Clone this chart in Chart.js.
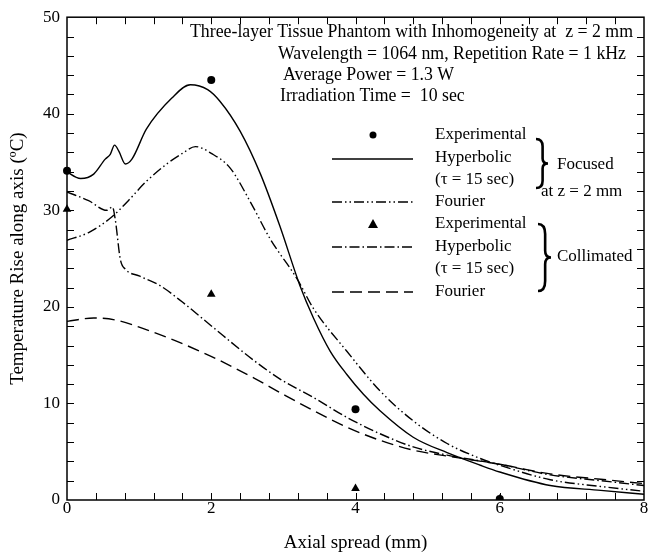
<!DOCTYPE html>
<html>
<head>
<meta charset="utf-8">
<script src="https://cdn.jsdelivr.net/npm/chart.js@4.4.1/dist/chart.umd.min.js"></script>
<style>
  html, body { margin: 0; padding: 0; background: #fff; }
  #wrap { width: 650px; height: 556px; }
</style>
</head>
<body>
<div id="wrap"><canvas id="myChart" width="650" height="556"></canvas></div>
<script>
// axial spread (mm) vs temperature rise (ºC)

// focused beam, hyperbolic model (solid)
var focHypX = [0, 0.05, 0.19, 0.37, 0.53, 0.6, 0.66, 0.72, 0.81, 0.9, 1.1, 1.45, 1.71, 1.95, 2.12, 2.4, 2.68, 2.95, 3.23, 3.42, 3.65, 3.88, 4.11, 4.34, 4.8, 5.27, 5.73, 6.0, 6.7, 7.4, 8];
var focHypY = [34.1, 33.75, 33.3, 33.75, 35.3, 35.8, 36.75, 36.1, 34.8, 35.3, 38.4, 41.6, 43.0, 42.5, 41.3, 38.2, 33.8, 28.4, 22.2, 18.8, 15.4, 13.0, 10.95, 9.24, 6.5, 4.9, 3.6, 2.9, 1.5, 1.0, 0.6];

// focused beam, Fourier model (dash-dot-dot)
var focFouX = [0, 0.3, 0.62, 0.85, 1.1, 1.4, 1.6, 1.78, 2.0, 2.26, 2.54, 2.82, 3.19, 3.42, 3.88, 4.34, 4.8, 5.27, 5.73, 6.0, 6.7, 7.4, 8];
var focFouY = [26.9, 27.7, 29.3, 31.0, 33.0, 34.9, 35.9, 36.6, 35.9, 34.4, 30.9, 27.0, 22.9, 19.8, 15.4, 11.3, 8.2, 5.85, 4.3, 3.6, 2.1, 1.4, 0.9];

// collimated beam, hyperbolic model (dash-dot)
var colHypX = [0, 0.3, 0.55, 0.63, 0.67, 0.74, 0.81, 1.0, 1.29, 1.6, 1.99, 2.6, 2.96, 3.42, 3.88, 4.34, 4.8, 5.27, 6.0, 6.7, 7.4, 8];
var colHypY = [31.9, 31.0, 30.0, 30.35, 29.0, 24.9, 23.9, 23.2, 22.2, 20.5, 18.1, 14.4, 12.5, 10.6, 8.56, 6.86, 5.5, 4.65, 3.7, 2.6, 2.0, 1.5];

// collimated beam, Fourier model (dashed)
var colFouX = [0, 0.37, 0.7, 1.06, 1.5, 1.99, 2.6, 2.96, 3.42, 3.88, 4.34, 4.8, 5.27, 6.0, 6.7, 7.4, 8];
var colFouY = [18.5, 18.85, 18.6, 17.75, 16.5, 14.9, 12.6, 11.1, 9.24, 7.54, 6.18, 5.16, 4.55, 3.7, 2.7, 2.15, 1.7];

// experimental points
var expX = [0, 2, 4, 6];
var expFocY = [34.1, 43.5, 9.4, 0.1];
var expColY = [30.1, 21.3, 1.2, 0.1];

var infoLines = [
    'Three-layer Tissue Phantom with Inhomogeneity at  z = 2 mm',
    'Wavelength = 1064 nm, Repetition Rate = 1 kHz',
    'Average Power = 1.3 W',
    'Irradiation Time =  10 sec'
];

function pts(xs, ys) {
    return xs.map(function(x, i) { return { x: x, y: ys[i] }; });
}

var SERIF = '"Liberation Serif", "Times New Roman", serif';
var DASH_DDOT = [10, 3, 1.5, 3, 1.5, 3];
var DASH_DOT = [10, 3, 1.5, 3];
var DASH = [12, 6];

function curve(xs, ys, dash) {
    return {
        data: pts(xs, ys),
        borderColor: '#000',
        borderWidth: 1.4,
        borderDash: dash,
        pointRadius: 0,
        cubicInterpolationMode: 'monotone',
        fill: false
    };
}

function marks(ys, style, r) {
    return {
        data: pts(expX, ys),
        showLine: false,
        pointStyle: style,
        pointRadius: r,
        pointBackgroundColor: '#000',
        pointBorderColor: '#000',
        pointBorderWidth: 0,
        clip: { left: false, top: false, right: false, bottom: 0 }
    };
}

function brace(ctx, x, y0, y1, w) {
    var h = y1 - y0, m = (y0 + y1) / 2;
    ctx.beginPath();
    ctx.moveTo(x, y0);
    ctx.quadraticCurveTo(x + w * 0.55, y0, x + w * 0.55, y0 + h * 0.15);
    ctx.lineTo(x + w * 0.55, m - h * 0.1);
    ctx.quadraticCurveTo(x + w * 0.55, m, x + w, m);
    ctx.quadraticCurveTo(x + w * 0.55, m, x + w * 0.55, m + h * 0.1);
    ctx.lineTo(x + w * 0.55, y1 - h * 0.15);
    ctx.quadraticCurveTo(x + w * 0.55, y1, x, y1);
    ctx.stroke();
}

var framePlugin = {
    id: 'frame',
    afterDraw: function(chart) {
        var ctx = chart.ctx;
        var a = chart.chartArea;
        var xs = chart.scales.x, ys = chart.scales.y;
        ctx.save();
        ctx.strokeStyle = '#000';
        ctx.setLineDash([]);
        ctx.lineWidth = 1.5;
        ctx.strokeRect(a.left, a.top, a.right - a.left, a.bottom - a.top);

        // inward ticks on all four sides
        ctx.lineWidth = 1;
        ctx.beginPath();
        for (var i = 1; i < 20; i++) {
            var px = Math.round(xs.getPixelForValue(i * 0.4)) + 0.5;
            ctx.moveTo(px, a.bottom); ctx.lineTo(px, a.bottom - 7);
            ctx.moveTo(px, a.top); ctx.lineTo(px, a.top + 7);
        }
        for (var j = 1; j < 25; j++) {
            var py = Math.round(ys.getPixelForValue(j * 2)) + 0.5;
            ctx.moveTo(a.left, py); ctx.lineTo(a.left + 7, py);
            ctx.moveTo(a.right, py); ctx.lineTo(a.right - 7, py);
        }
        ctx.stroke();

        // run description
        ctx.fillStyle = '#000';
        ctx.textBaseline = 'middle';
        ctx.textAlign = 'left';
        ctx.font = '17.8px ' + SERIF;
        ctx.fillText(infoLines[0], 190, 32);
        ctx.fillText(infoLines[1], 278, 54);
        ctx.fillText(infoLines[2], 283, 75);
        ctx.fillText(infoLines[3], 280, 96);

        // legend
        var sx0 = 332, sx1 = 413, tx = 435;
        ctx.font = '17px ' + SERIF;
        var rows = [
            ['Experimental', 135], ['Hyperbolic', 158], ['(\u03c4 = 15 sec)', 180], ['Fourier', 202],
            ['Experimental', 224], ['Hyperbolic', 247], ['(\u03c4 = 15 sec)', 269], ['Fourier', 292]
        ];
        rows.forEach(function(r) { ctx.fillText(r[0], tx, r[1]); });

        ctx.beginPath();
        ctx.arc(373, 135, 3.5, 0, Math.PI * 2);
        ctx.fill();
        ctx.beginPath();
        ctx.moveTo(373, 219); ctx.lineTo(378, 228); ctx.lineTo(368, 228);
        ctx.closePath();
        ctx.fill();

        var samples = [[159, []], [202, DASH_DDOT], [247, DASH_DOT], [292, DASH]];
        ctx.lineWidth = 1.4;
        samples.forEach(function(s) {
            ctx.setLineDash(s[1]);
            ctx.beginPath();
            ctx.moveTo(sx0, s[0]); ctx.lineTo(sx1, s[0]);
            ctx.stroke();
        });
        ctx.setLineDash([]);

        ctx.lineWidth = 2.6;
        brace(ctx, 536, 139, 188, 12);
        brace(ctx, 538, 224, 291, 13);

        ctx.fillText('Focused', 557, 165);
        ctx.fillText('at z = 2 mm', 541, 192);
        ctx.fillText('Collimated', 557, 257);
        ctx.restore();
    }
};

var ctx = document.getElementById('myChart');

var myChart = new Chart(ctx.getContext('2d'), {
    type: 'line',
    data: {
        datasets: [
            curve(focHypX, focHypY, []),
            curve(focFouX, focFouY, DASH_DDOT),
            curve(colHypX, colHypY, DASH_DOT),
            curve(colFouX, colFouY, DASH),
            marks(expFocY, 'circle', 4),
            marks(expColY, 'triangle', 5)
        ]
    },
    options: {
        responsive: false,
        animation: false,
        layout: { padding: { top: 11, right: 6, left: 0, bottom: 0 } },
        plugins: {
            legend: { display: false },
            tooltip: { enabled: false }
        },
        scales: {
            x: {
                type: 'linear',
                min: 0,
                max: 8,
                grid: { display: false, drawTicks: false },
                border: { display: false },
                ticks: { stepSize: 2, color: '#000', padding: -2, font: { family: SERIF, size: 17 } },
                title: { display: true, text: 'Axial spread (mm)', color: '#000', padding: 2, font: { family: SERIF, size: 19 } },
                afterFit: function(scale) { scale.height = 56; }
            },
            y: {
                min: 0,
                max: 50,
                grid: { display: false, drawTicks: false },
                border: { display: false },
                ticks: { stepSize: 10, color: '#000', padding: 7, font: { family: SERIF, size: 17 } },
                title: { display: true, text: 'Temperature Rise along axis (\u00baC)', color: '#000', padding: 7, font: { family: SERIF, size: 19 } },
                afterFit: function(scale) { scale.width = 67; }
            }
        }
    },
    plugins: [framePlugin]
});
</script>
</body>
</html>
